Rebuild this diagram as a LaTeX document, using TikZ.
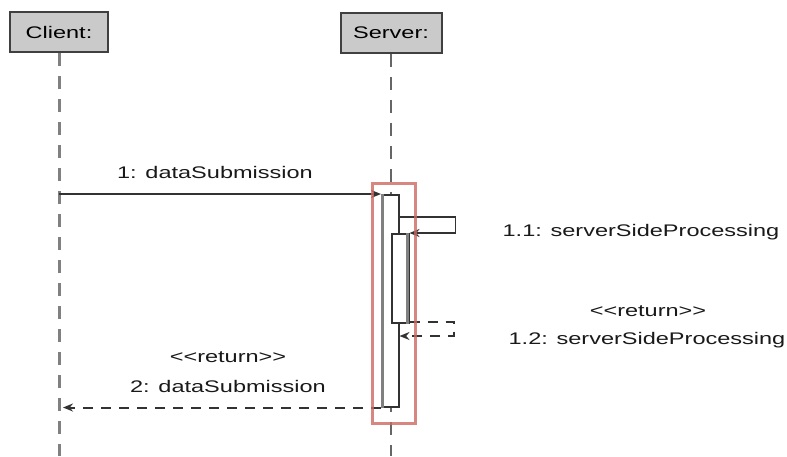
\documentclass[tikz,border=0pt]{standalone}
\usepackage{fontspec}
\setmainfont{Liberation Sans}[FakeStretch=1.4]
\usetikzlibrary{arrows.meta}

\definecolor{boxfill}{RGB}{202,202,202}
\definecolor{boxline}{RGB}{64,64,64}
\definecolor{lifegray}{RGB}{128,128,128}
\definecolor{msgline}{RGB}{50,50,50}
\definecolor{focusred}{RGB}{205,105,95}

\tikzset{
  lifebox/.style={draw=boxline, fill=boxfill, line width=2pt, inner sep=0pt,
    minimum width=98pt, minimum height=40pt},
  lifeline/.style={draw=lifegray, line width=3pt, dash pattern=on 13pt off 10pt},
  msg/.style={draw=msgline, line width=1.5pt, -{Stealth[length=10pt,width=8pt]}},
  reply/.style={msg, line width=2pt, dash pattern=on 10pt off 8pt},
  actbar/.style={draw=msgline, fill=white, line width=1.5pt, inner sep=0pt,
    minimum width=17pt, anchor=north west},
  msgtext/.style={text=black!90, inner sep=0pt},
  focus/.style={draw=focusred, line width=3pt, opacity=0.8}
}
\newcommand{\stereo}[1]{{<}{<}#1{>}{>}}

\begin{document}
\fontsize{16.8}{19}\selectfont
\begin{tikzpicture}[x=1pt, y=-1pt, font=\fontsize{16.8}{19}\selectfont]
  %%%%% START %%%%%
  \useasboundingbox (0,0) rectangle (787,456);
  \coordinate (bottom) at (0,456);

  % objects and their lifelines
  \node[lifebox] (client) at (59,32) {Client:};
  \node[lifebox, minimum width=101pt] (server) at (391,33) {Server:};
  \draw[lifeline] (client.south) -- (client.south |- bottom);
  \draw[lifeline, line width=2pt, draw=boxline!80] (server.south) -- (server.south |- bottom);

  % activations
  \node[actbar, minimum height=212pt] (act1) at (381,194) {};
  \draw[lifegray, line width=3pt] ([xshift=1pt]act1.north west) -- ([xshift=1pt]act1.south west);
  \node[actbar, minimum height=89pt] (act2) at (391,233) {};
  \draw[lifegray, line width=3pt] ([xshift=-2pt]act2.north east) -- ([xshift=-2pt]act2.south east);

  % messages
  \draw[msg] (client.south |- act1.north west) -- (act1.north west);
  \draw[msg] ([yshift=-23pt]act1.north east) -- ++(56,0) |- (act2.north east);
  \draw[reply] ([yshift=2pt]act2.south east) -- ++(44,0) |- ([yshift=-142pt]act1.north east);
  \draw[reply, shorten >=4pt] (act1.south west) -- (act1.south west -| client.south);

  % labels
  \node[msgtext] (m1) at (215,172) {1: dataSubmission};
  \node[msgtext] (m11) at (641,232) {1.1: serverSideProcessing};
  \node[msgtext] (r12) at (648,311) {\stereo{return}};
  \node[msgtext] (m12) at (647,340) {1.2: serverSideProcessing};
  \node[msgtext] (r2) at (228,357) {\stereo{return}};
  \node[msgtext] (m2) at (228,386) {2: dataSubmission};

  % focus frame round the server activation
  \draw[focus] (372,183) rectangle (415,423);
  %%%%% END %%%%%
\end{tikzpicture}
\end{document}
